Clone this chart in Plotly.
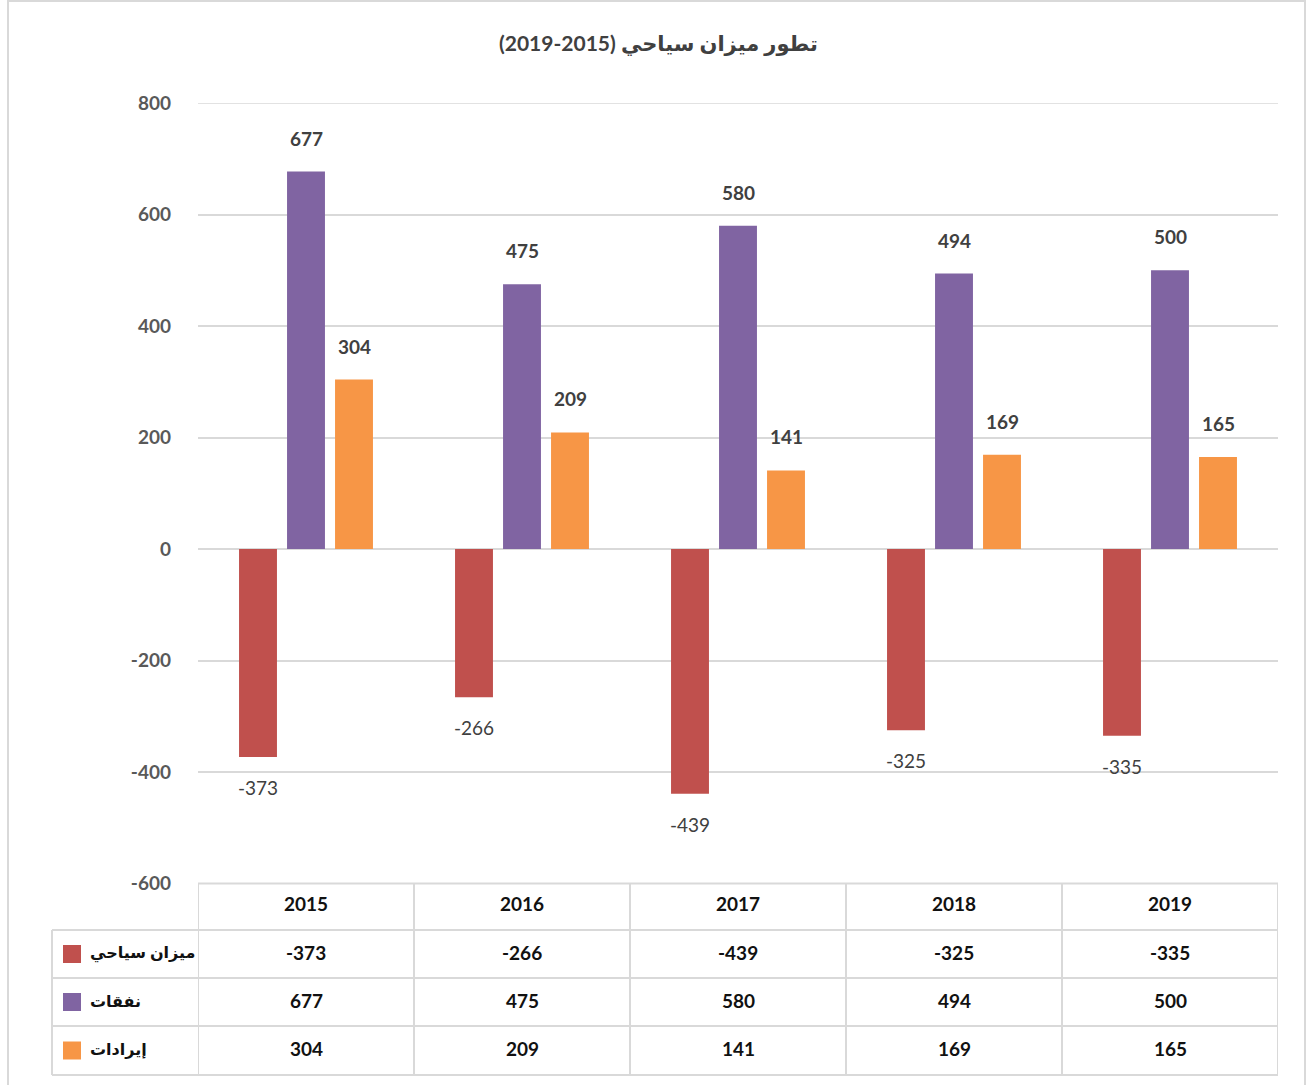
import plotly.graph_objects as go

# ---------------- data ----------------
years = ["2015", "2016", "2017", "2018", "2019"]
series_names = ["ميزان سياحي", "نفقات", "إيرادات"]
balance = [-373, -266, -439, -325, -335]
expenses = [677, 475, 580, 494, 500]
revenues = [304, 209, 141, 169, 165]
y_ticks = [800, 600, 400, 200, 0, -200, -400, -600]
title_text = "(2019-2015)\u200e تطور ميزان سياحي"

series_values = [balance, expenses, revenues]
colors = ["#C0504D", "#8064A2", "#F79646"]

# ---------------- layout helpers ----------------
W, H = 1308, 1085
ML, MR, MT, MB = 198, 30, 103, 10
PW = W - ML - MR
PH = H - MT - MB
BARGAP = 1 / 3
BARGROUPGAP = 0.21
FONT = "Lato, 'DejaVu Sans', sans-serif"
GRID = "#D9D9D9"


def px_x(px):
    return (px - ML) / PW


def px_y(py):
    return (H - MB - py) / PH


PLOT_BOTTOM = 883.5
row_lines = [883.5, 930, 978, 1026, 1075]

fig = go.Figure()
xs = list(range(len(years)))
for name, vals, col in zip(series_names, series_values, colors):
    fig.add_trace(go.Bar(x=xs, y=vals, name=name, marker=dict(color=col, line=dict(width=0)),
                         showlegend=False, hoverinfo="skip"))

annotations = []
shapes = []

# top gridline (at the range edge)
shapes.append(dict(type="line", xref="paper", yref="y", x0=0, x1=1, y0=max(y_ticks), y1=max(y_ticks),
                   line=dict(color=GRID, width=1.5), layer="below"))

# bar value labels
slot = (1 - BARGAP) / len(series_values)
for i, vals in enumerate(series_values):
    off = (i - (len(series_values) - 1) / 2) * slot
    for j, v in enumerate(vals):
        pos = v >= 0
        annotations.append(dict(
            x=xs[j] + off, y=v, xref="x", yref="y", text=str(v), showarrow=False,
            xanchor="center", yanchor="bottom" if pos else "top", yshift=20 if pos else -17,
            font=dict(family=FONT, size=19, color="#404040", weight="bold" if pos else "normal")))

# title
annotations.append(dict(x=px_x(658), y=px_y(43), xref="paper", yref="paper", text=title_text,
                        showarrow=False, xanchor="center", yanchor="middle",
                        font=dict(family=FONT, size=21, color="#404040", weight="bold")))

# table grid
line = dict(color=GRID, width=2)
shapes.append(dict(type="line", xref="paper", yref="paper", x0=0, x1=1,
                   y0=px_y(row_lines[0]), y1=px_y(row_lines[0]), line=line))
for r in row_lines[1:]:
    shapes.append(dict(type="line", xref="paper", yref="paper", x0=px_x(52), x1=1,
                       y0=px_y(r), y1=px_y(r), line=line))
shapes.append(dict(type="line", xref="paper", yref="paper", x0=px_x(52), x1=px_x(52),
                   y0=px_y(row_lines[1]), y1=px_y(row_lines[-1]), line=line))
for k in range(len(years) + 1):
    shapes.append(dict(type="line", xref="x", yref="paper", x0=k - 0.5, x1=k - 0.5,
                       y0=px_y(row_lines[0]), y1=px_y(row_lines[-1]), line=line))

# table header (years)
hdr_y = px_y(903)
for j, yr in enumerate(years):
    annotations.append(dict(x=xs[j], y=hdr_y, xref="x", yref="paper", text=yr, showarrow=False,
                            xanchor="center", yanchor="middle",
                            font=dict(family=FONT, size=19, color="#111111", weight="bold")))

# table rows
for i, (name, vals, col) in enumerate(zip(series_names, series_values, colors)):
    top, bot = row_lines[i + 1], row_lines[i + 2]
    cy = (top + bot) / 2 - 2
    for j, v in enumerate(vals):
        annotations.append(dict(x=xs[j], y=px_y(cy), xref="x", yref="paper", text=str(v),
                                showarrow=False, xanchor="center", yanchor="middle",
                                font=dict(family=FONT, size=19, color="#111111", weight="bold")))
    shapes.append(dict(type="rect", xref="paper", yref="paper", x0=px_x(63), x1=px_x(81),
                       y0=px_y(cy + 11), y1=px_y(cy - 7), fillcolor=col, line=dict(width=0)))
    annotations.append(dict(x=px_x(88), y=px_y(cy), xref="paper", yref="paper", text=name,
                            showarrow=False, xanchor="left", yanchor="middle",
                            font=dict(family=FONT, size=16, color="#111111", weight="bold")))

# outer frame
shapes.append(dict(type="rect", xref="paper", yref="paper", x0=px_x(8), x1=px_x(1305),
                   y0=px_y(1092), y1=px_y(1), line=dict(color=GRID, width=2),
                   fillcolor="rgba(0,0,0,0)", layer="below"))

fig.update_layout(
    template="none",
    width=W, height=H, autosize=False,
    margin=dict(l=ML, r=MR, t=MT, b=MB, pad=0, autoexpand=False),
    paper_bgcolor="white", plot_bgcolor="white",
    barmode="group", bargap=BARGAP, bargroupgap=BARGROUPGAP,
    xaxis=dict(range=[-0.5, len(years) - 0.5], visible=False, fixedrange=True, automargin=False),
    yaxis=dict(domain=[px_y(PLOT_BOTTOM), 1], range=[-600, 800], tickvals=y_ticks,
               ticktext=[str(v) for v in y_ticks], fixedrange=True, automargin=False,
               showgrid=True, gridcolor=GRID, gridwidth=1.5,
               zeroline=True, zerolinecolor=GRID, zerolinewidth=2,
               showline=False, ticks="", ticklabelstandoff=26,
               tickfont=dict(family=FONT, size=19, color="#595959", weight="bold")),
    annotations=annotations, shapes=shapes,
    font=dict(family=FONT),
)

fig.write_html("out.html", config={"displayModeBar": False},
               post_script="document.body.style.margin='0';document.body.style.overflow='hidden';")
